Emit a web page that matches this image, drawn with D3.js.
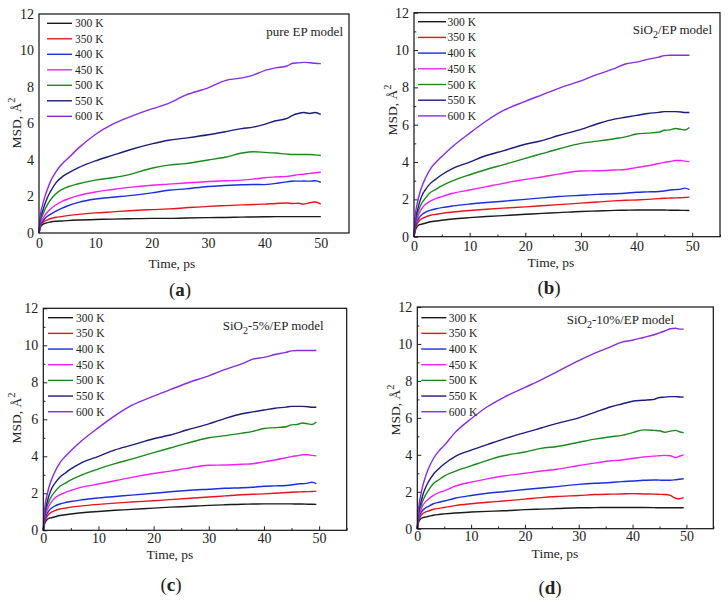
<!DOCTYPE html>
<html>
<head>
<meta charset="utf-8">
<script src="https://cdn.jsdelivr.net/npm/d3@7"></script>
<style>
  body { margin: 0; background: #fff; }
  svg text { font-family: "Liberation Serif", "Times New Roman", serif; fill: #222; }
</style>
</head>
<body>
<div id="chart"></div>
<script>
// Time grids (ps)
var timeA = [0, 0.3, 0.6, 1, 1.5, 2, 3, 4, 5, 7, 10, 13, 16, 20, 23, 26, 30, 33, 36, 38, 40, 42, 44, 45, 46, 47, 48, 49, 50];
var timeB = [0, 0.3, 0.6, 1, 1.5, 2, 3, 4, 5, 7, 10, 13, 16, 20, 23, 26, 30, 33, 36, 38, 40, 42, 44, 45, 46, 47, 48, 48.7, 49.5];

var tempLabels = ["300 K", "350 K", "400 K", "450 K", "500 K", "550 K", "600 K"];
var lineColors = ["#1a1a1a", "#e8141a", "#1a2ee0", "#f020f0", "#1a8a1a", "#1c1c7c", "#8a2be2"];

var xTicks = [0, 10, 20, 30, 40, 50];
var xMinor = [5, 15, 25, 35, 45, 55];
var yTicks = [0, 2, 4, 6, 8, 10, 12];
var yMinor = [1, 3, 5, 7, 9, 11];

// (a) pure EP model, MSD in A^2, one row per temperature
var msdA = [
  [0, .35, .45, .52, .57, .6, .64, .66, .68, .71, .74, .76, .78, .8, .8, .82, .84, .85, .87, .88, .89, .9, .9, .9, .9, .9, .9, .9, .9],
  [0, .4, .55, .65, .72, .78, .86, .9, .95, 1.02, 1.1, 1.16, 1.22, 1.28, 1.32, 1.38, 1.46, 1.5, 1.54, 1.56, 1.58, 1.62, 1.64, 1.62, 1.63, 1.58, 1.66, 1.7, 1.58],
  [0, .45, .62, .78, .92, 1.02, 1.2, 1.35, 1.48, 1.68, 1.86, 1.96, 2.05, 2.2, 2.34, 2.42, 2.55, 2.6, 2.64, 2.66, 2.65, 2.72, 2.8, 2.85, 2.84, 2.85, 2.84, 2.86, 2.78],
  [0, .55, .75, .95, 1.15, 1.3, 1.55, 1.72, 1.85, 2.05, 2.25, 2.38, 2.5, 2.62, 2.68, 2.74, 2.82, 2.86, 2.9, 2.95, 3.03, 3.07, 3.1, 3.15, 3.2, 3.22, 3.27, 3.3, 3.33],
  [0, .7, .95, 1.25, 1.55, 1.8, 2.15, 2.38, 2.52, 2.7, 2.9, 3.03, 3.2, 3.55, 3.72, 3.8, 4.0, 4.15, 4.38, 4.45, 4.42, 4.38, 4.32, 4.3, 4.3, 4.3, 4.3, 4.28, 4.25],
  [0, .85, 1.15, 1.55, 1.95, 2.25, 2.75, 3.05, 3.25, 3.58, 3.95, 4.25, 4.55, 4.88, 5.08, 5.2, 5.38, 5.55, 5.72, 5.8, 5.95, 6.15, 6.28, 6.45, 6.55, 6.6, 6.55, 6.6, 6.5],
  [0, 1.1, 1.5, 1.95, 2.4, 2.8, 3.35, 3.75, 4.05, 4.65, 5.4, 5.95, 6.35, 6.8, 7.1, 7.55, 7.95, 8.35, 8.5, 8.65, 8.9, 9.05, 9.15, 9.3, 9.32, 9.35, 9.33, 9.3, 9.28]
];

// (b) SiO2/EP model
var msdB = [
  [0, .4, .55, .65, .68, .72, .8, .84, .88, .95, 1.02, 1.08, 1.13, 1.2, 1.25, 1.29, 1.35, 1.38, 1.41, 1.42, 1.43, 1.43, 1.43, 1.43, 1.42, 1.42, 1.41, 1.41, 1.4],
  [0, .5, .7, .88, .98, 1.05, 1.15, 1.2, 1.25, 1.32, 1.4, 1.47, 1.53, 1.6, 1.66, 1.72, 1.8, 1.86, 1.92, 1.95, 1.97, 2.0, 2.04, 2.06, 2.07, 2.08, 2.09, 2.1, 2.12],
  [0, .6, .85, 1.05, 1.2, 1.3, 1.42, 1.5, 1.56, 1.65, 1.75, 1.83, 1.9, 2.0, 2.08, 2.15, 2.22, 2.27, 2.3, 2.33, 2.38, 2.4, 2.42, 2.45, 2.5, 2.52, 2.55, 2.6, 2.52],
  [0, .75, 1.0, 1.3, 1.55, 1.72, 1.92, 2.05, 2.15, 2.33, 2.5, 2.68, 2.86, 3.07, 3.2, 3.35, 3.52, 3.53, 3.57, 3.6, 3.7, 3.8, 3.92, 3.98, 4.03, 4.08, 4.08, 4.05, 4.02],
  [0, .85, 1.2, 1.55, 1.85, 2.05, 2.38, 2.55, 2.72, 3.0, 3.32, 3.6, 3.85, 4.2, 4.45, 4.7, 5.0, 5.12, 5.25, 5.35, 5.5, 5.55, 5.6, 5.7, 5.72, 5.8, 5.75, 5.72, 5.85],
  [0, 1.0, 1.4, 1.85, 2.25, 2.5, 2.87, 3.1, 3.32, 3.66, 4.0, 4.35, 4.6, 4.95, 5.15, 5.42, 5.75, 6.05, 6.3, 6.4, 6.5, 6.6, 6.66, 6.7, 6.7, 6.7, 6.68, 6.65, 6.65],
  [0, 1.3, 1.8, 2.3, 2.75, 3.1, 3.65, 4.0, 4.3, 4.85, 5.55, 6.2, 6.75, 7.25, 7.6, 7.95, 8.35, 8.7, 9.0, 9.25, 9.35, 9.5, 9.62, 9.7, 9.72, 9.72, 9.72, 9.72, 9.72]
];

// (c) SiO2-5%/EP model (same curves as (b) in the figure)
var msdC = [
  [0, .4, .55, .65, .68, .72, .8, .84, .88, .95, 1.02, 1.08, 1.13, 1.2, 1.25, 1.29, 1.35, 1.38, 1.41, 1.42, 1.43, 1.43, 1.43, 1.43, 1.42, 1.42, 1.41, 1.41, 1.4],
  [0, .5, .7, .88, .98, 1.05, 1.15, 1.2, 1.25, 1.32, 1.4, 1.47, 1.53, 1.6, 1.66, 1.72, 1.8, 1.86, 1.92, 1.95, 1.97, 2.0, 2.04, 2.06, 2.07, 2.08, 2.09, 2.1, 2.12],
  [0, .6, .85, 1.05, 1.2, 1.3, 1.42, 1.5, 1.56, 1.65, 1.75, 1.83, 1.9, 2.0, 2.08, 2.15, 2.22, 2.27, 2.3, 2.33, 2.38, 2.4, 2.42, 2.45, 2.5, 2.52, 2.55, 2.6, 2.52],
  [0, .75, 1.0, 1.3, 1.55, 1.72, 1.92, 2.05, 2.15, 2.33, 2.5, 2.68, 2.86, 3.07, 3.2, 3.35, 3.52, 3.53, 3.57, 3.6, 3.7, 3.8, 3.92, 3.98, 4.03, 4.08, 4.08, 4.05, 4.02],
  [0, .85, 1.2, 1.55, 1.85, 2.05, 2.38, 2.55, 2.72, 3.0, 3.32, 3.6, 3.85, 4.2, 4.45, 4.7, 5.0, 5.12, 5.25, 5.35, 5.5, 5.55, 5.6, 5.7, 5.72, 5.8, 5.75, 5.72, 5.85],
  [0, 1.0, 1.4, 1.85, 2.25, 2.5, 2.87, 3.1, 3.32, 3.66, 4.0, 4.35, 4.6, 4.95, 5.15, 5.42, 5.75, 6.05, 6.3, 6.4, 6.5, 6.6, 6.66, 6.7, 6.7, 6.7, 6.68, 6.65, 6.65],
  [0, 1.3, 1.8, 2.3, 2.75, 3.1, 3.65, 4.0, 4.3, 4.85, 5.55, 6.2, 6.75, 7.25, 7.6, 7.95, 8.35, 8.7, 9.0, 9.25, 9.35, 9.5, 9.62, 9.7, 9.72, 9.72, 9.72, 9.72, 9.72]
];

// (d) SiO2-10%/EP model
var msdD = [
  [0, .4, .52, .6, .63, .66, .73, .77, .8, .85, .9, .94, .97, 1.03, 1.06, 1.09, 1.13, 1.14, 1.15, 1.15, 1.15, 1.15, 1.14, 1.13, 1.13, 1.13, 1.13, 1.13, 1.13],
  [0, .5, .68, .82, .9, .95, 1.05, 1.1, 1.15, 1.25, 1.35, 1.43, 1.5, 1.6, 1.68, 1.74, 1.8, 1.85, 1.87, 1.88, 1.9, 1.88, 1.87, 1.86, 1.85, 1.8, 1.65, 1.62, 1.68],
  [0, .6, .82, 1.0, 1.12, 1.2, 1.35, 1.43, 1.5, 1.65, 1.8, 1.92, 2.0, 2.12, 2.2, 2.28, 2.4, 2.46, 2.5, 2.55, 2.58, 2.62, 2.64, 2.63, 2.62, 2.62, 2.65, 2.68, 2.7],
  [0, .7, .95, 1.25, 1.45, 1.58, 1.8, 1.95, 2.05, 2.3, 2.52, 2.7, 2.85, 3.0, 3.12, 3.22, 3.42, 3.55, 3.68, 3.72, 3.8, 3.88, 3.93, 3.95, 3.97, 3.95, 3.85, 3.92, 4.0],
  [0, .85, 1.15, 1.5, 1.8, 2.05, 2.45, 2.65, 2.85, 3.1, 3.4, 3.7, 3.95, 4.15, 4.35, 4.45, 4.68, 4.85, 4.98, 5.05, 5.2, 5.35, 5.32, 5.3, 5.22, 5.28, 5.32, 5.25, 5.2],
  [0, 1.0, 1.35, 1.8, 2.2, 2.5, 2.95, 3.25, 3.5, 3.9, 4.25, 4.55, 4.85, 5.2, 5.45, 5.7, 6.0, 6.3, 6.6, 6.75, 6.9, 6.95, 7.0, 7.1, 7.12, 7.15, 7.15, 7.13, 7.12],
  [0, 1.25, 1.75, 2.3, 2.8, 3.2, 3.8, 4.2, 4.5, 5.2, 5.95, 6.6, 7.1, 7.65, 8.05, 8.5, 9.1, 9.5, 9.85, 10.1, 10.2, 10.35, 10.5, 10.6, 10.7, 10.82, 10.85, 10.8, 10.8]
];

var svg = d3.select("#chart")
  .append("svg")
  .attr("width", 728)
  .attr("height", 602);

// Panel layouts (frame box, label spots)
var panels = [
  { tag: "a", time: timeA, msd: msdA, sub: null, pre: "pure EP model", post: "",
    left: 39, right: 349, top: 14, bottom: 233, ticks: false, pad: 5,
    leg: { x: 47, len: 25, gap: 3, y: 23.3, step: 15.5 },
    title: { x: 343, y: 36, anchor: "end" },
    yLab: { x: 21, y: 123 }, xLab: { x: 172, y: 268 }, tagPos: { x: 180, y: 296 } },
  { tag: "b", time: timeB, msd: msdB, sub: "2", pre: "SiO", post: "/EP model",
    left: 414, right: 720, top: 12.7, bottom: 236.7, ticks: true, pad: 4.5,
    leg: { x: 418, len: 28, gap: 1.5, y: 21.7, step: 15.7 },
    title: { x: 712, y: 34, anchor: "end" },
    yLab: { x: 397, y: 110 }, xLab: { x: 551, y: 267 }, tagPos: { x: 549, y: 294 } },
  { tag: "c", time: timeB, msd: msdC, sub: "2", pre: "SiO", post: "-5%/EP model",
    left: 43.3, right: 346.7, top: 308.3, bottom: 530.3, ticks: true, pad: 2.5,
    leg: { x: 48, len: 25, gap: 3, y: 317.7, step: 15.67 },
    title: { x: 222.7, y: 330, anchor: "start" },
    yLab: { x: 21, y: 418 }, xLab: { x: 170, y: 559 }, tagPos: { x: 171, y: 591 } },
  { tag: "d", time: timeB, msd: msdD, sub: "2", pre: "SiO", post: "-10%/EP model",
    left: 417.3, right: 713.3, top: 307, bottom: 528.7, ticks: true, pad: 2.5,
    leg: { x: 421.3, len: 25, gap: 2.5, y: 317.7, step: 15.67 },
    title: { x: 566.7, y: 324, anchor: "start" },
    yLab: { x: 400, y: 410 }, xLab: { x: 555, y: 558 }, tagPos: { x: 550, y: 594 } }
];

panels.forEach(function(p) {
  var x = d3.scaleLinear().domain([0, 55]).range([p.left, p.right]);
  var y = d3.scaleLinear().domain([0, 12]).range([p.bottom, p.top]);
  var g = svg.append("g");

  // Bottom axis, major ticks inward
  var bottomAxis = d3.axisBottom(x).tickValues(xTicks)
    .tickSizeInner(p.ticks ? -4 : 0).tickSizeOuter(0).tickPadding(p.pad);
  var xAxis = g.append("g")
    .attr("transform", `translate(0, ${p.bottom})`)
    .call(bottomAxis);
  xAxis.select(".domain").remove();
  xAxis.attr("font-family", null).attr("font-size", 14);

  var leftAxis = d3.axisLeft(y).tickValues(yTicks)
    .tickSizeInner(p.ticks ? -4 : 0).tickSizeOuter(0).tickPadding(5);
  var yAxis = g.append("g")
    .attr("transform", `translate(${p.left}, 0)`)
    .call(leftAxis);
  yAxis.select(".domain").remove();
  yAxis.attr("font-family", null).attr("font-size", 14);

  // Minor ticks
  if (p.ticks) {
    var xm = g.append("g")
      .attr("transform", `translate(0, ${p.bottom})`)
      .call(d3.axisBottom(x).tickValues(xMinor).tickSize(-2.2).tickFormat(""));
    xm.select(".domain").remove();
    var ym = g.append("g")
      .attr("transform", `translate(${p.left}, 0)`)
      .call(d3.axisLeft(y).tickValues(yMinor).tickSize(-2.2).tickFormat(""));
    ym.select(".domain").remove();
  }
  g.selectAll(".tick line").attr("stroke", "#222");

  // Curves
  var line = d3.line()
    .x(function(d) { return x(d[0]); })
    .y(function(d) { return y(d[1]); })
    .curve(d3.curveMonotoneX);

  p.msd.forEach(function(vals, i) {
    var pts = p.time.map(function(t, j) { return [t, vals[j]]; });
    g.append("path")
      .datum(pts)
      .attr("d", line)
      .attr("fill", "none")
      .attr("stroke", lineColors[i])
      .attr("stroke-width", 1.4);
  });

  // Frame
  g.append("rect")
    .attr("x", p.left)
    .attr("y", p.top)
    .attr("width", p.right - p.left)
    .attr("height", p.bottom - p.top)
    .attr("fill", "none")
    .attr("stroke", "#111")
    .attr("stroke-width", 1.2);

  // Legend
  tempLabels.forEach(function(lab, i) {
    var ly = p.leg.y + i * p.leg.step;
    g.append("line")
      .attr("x1", p.leg.x).attr("x2", p.leg.x + p.leg.len)
      .attr("y1", ly).attr("y2", ly)
      .attr("stroke", lineColors[i])
      .attr("stroke-width", 1.4);
    g.append("text")
      .attr("x", p.leg.x + p.leg.len + p.leg.gap)
      .attr("y", ly + 4)
      .attr("font-size", 11.5)
      .text(lab);
  });

  // Model title
  var title = g.append("text")
    .attr("x", p.title.x)
    .attr("y", p.title.y)
    .attr("text-anchor", p.title.anchor)
    .attr("font-size", 13);
  title.append("tspan").text(p.pre);
  if (p.sub) {
    title.append("tspan").attr("dy", 4).attr("font-size", 10).text(p.sub);
    title.append("tspan").attr("dy", -4).text(p.post);
  }

  // Axis titles
  var yl = g.append("text")
    .attr("transform", `translate(${p.yLab.x}, ${p.yLab.y}) rotate(-90)`)
    .attr("text-anchor", "middle")
    .attr("font-size", 13.5);
  yl.append("tspan").text("MSD, \u00C5");
  yl.append("tspan").attr("dy", -6).attr("font-size", 10.5).text("2");

  g.append("text")
    .attr("x", p.xLab.x)
    .attr("y", p.xLab.y)
    .attr("text-anchor", "middle")
    .attr("font-size", 13.5)
    .text("Time, ps");

  // Panel tag
  var tg = g.append("text")
    .attr("x", p.tagPos.x)
    .attr("y", p.tagPos.y)
    .attr("text-anchor", "middle")
    .attr("font-size", 19);
  tg.append("tspan").text("(");
  tg.append("tspan").attr("font-weight", "bold").text(p.tag);
  tg.append("tspan").text(")");
});
</script>
</body>
</html>
